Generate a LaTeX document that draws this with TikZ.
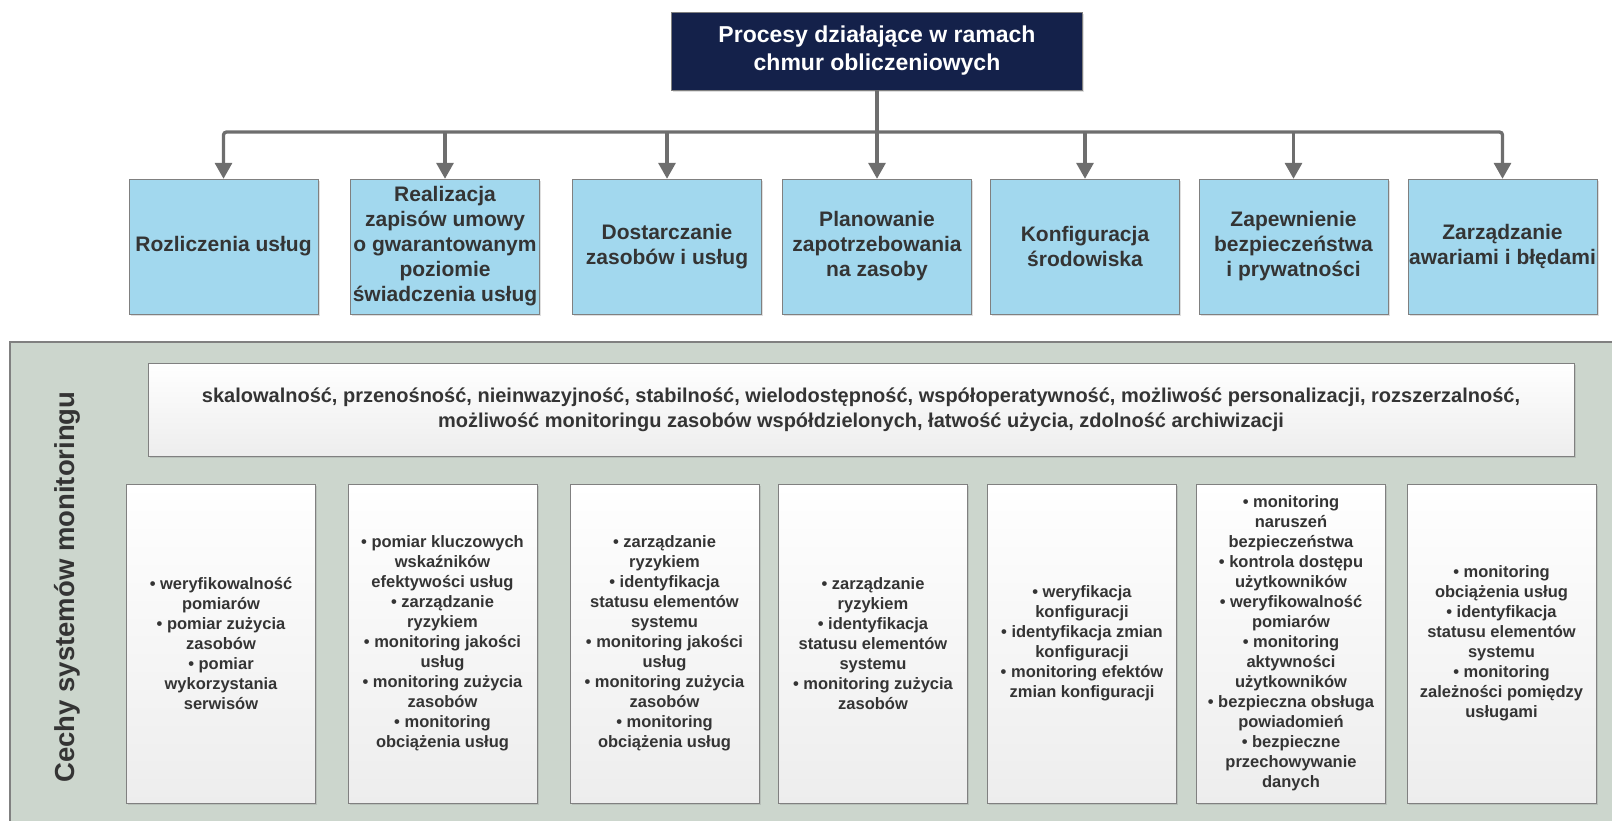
\documentclass[tikz,border=0pt]{standalone}
\usepackage{fontspec}
\setmainfont{Liberation Sans}
\usetikzlibrary{arrows.meta,shadows}

\definecolor{granat}{RGB}{20,33,74}
\definecolor{niebieski}{RGB}{162,216,238}
\definecolor{tlo}{RGB}{204,214,205}
\definecolor{linia}{RGB}{110,110,110}
\definecolor{ramka}{RGB}{128,128,128}
\definecolor{tekst}{RGB}{52,52,52}

\begin{document}
\begin{tikzpicture}[x=1pt, y=-1pt,
    cien/.style={drop shadow={shadow xshift=1.5pt, shadow yshift=-1.5pt, opacity=0.25}},
    proces/.style={draw=ramka, fill=niebieski, cien, minimum width=189pt, minimum height=135pt,
      inner sep=0pt, align=center, text=tekst, font=\fontsize{21}{25}\selectfont\bfseries},
    cecha/.style={draw=ramka, top color=white, bottom color=black!7, cien, minimum width=189pt,
      minimum height=319pt, inner sep=0pt, align=center, text=tekst,
      font=\fontsize{16.5}{20}\selectfont\bfseries},
    polaczenie/.style={draw=linia, line width=3.3pt, -{Triangle[width=17pt, length=16pt]}}
  ]
  \clip (0,0) rectangle (1612,820);

  % tlo z cechami systemow monitoringu
  \draw[draw=ramka, fill=tlo, line width=1.2pt] (10,342) rectangle (1640,850);

  \node[draw=ramka, fill=granat, text=white, cien, minimum width=411pt, minimum height=78pt,
    align=center, font=\fontsize{23}{28}\selectfont\bfseries] (procesy) at (877,51)
    {Procesy działające w ramach\\chmur obliczeniowych};

  \node[proces] (rozl) at (223.5,246.5) {Rozliczenia usług};
  \node[proces] (sla) at (445,246.5) {Realizacja\\zapisów umowy\\o gwarantowanym\\poziomie\\świadczenia usług};
  \node[proces] (dostar) at (667,246.5) {Dostarczanie\\zasobów i usług};
  \node[proces] (plan) at (877,246.5) {Planowanie\\zapotrzebowania\\na zasoby};
  \node[proces] (konf) at (1085,246.5) {Konfiguracja\\środowiska};
  \node[proces] (bezp) at (1293.5,246.5) {Zapewnienie\\bezpieczeństwa\\i prywatności};
  \node[proces] (awarie) at (1502.5,246.5) {Zarządzanie\\awariami i błędami};

  \coordinate (szyna) at (877,132);
  \draw[polaczenie] (procesy) -- (plan);
  \draw[polaczenie, rounded corners=3pt] (szyna) -| (rozl.north);
  \draw[polaczenie, rounded corners=3pt] (szyna) -| (awarie.north);
  \draw[polaczenie] (sla |- szyna) -- (sla);
  \draw[polaczenie] (dostar |- szyna) -- (dostar);
  \draw[polaczenie] (konf |- szyna) -- (konf);
  \draw[polaczenie] (bezp |- szyna) -- (bezp);

  \node[rotate=90, text=tekst, font=\fontsize{27.5}{30}\selectfont\bfseries] (tytul) at (67,587)
    {Cechy systemów monitoringu};

  \node[cecha, minimum width=1426pt, minimum height=93pt, font=\fontsize{20}{25}\selectfont\bfseries]
    (wspolne) at (861,409.5)
    {skalowalność, przenośność, nieinwazyjność, stabilność, wielodostępność, współoperatywność, możliwość personalizacji, rozszerzalność,\\
     możliwość monitoringu zasobów współdzielonych, łatwość użycia, zdolność archiwizacji};

  \node[cecha] (c1) at (221,643.5) {• weryfikowalność\\pomiarów\\• pomiar zużycia\\zasobów\\• pomiar\\wykorzystania\\serwisów};
  \node[cecha] (c2) at (442.5,643.5) {• pomiar kluczowych\\wskaźników\\efektywości usług\\• zarządzanie\\ryzykiem\\• monitoring jakości\\usług\\• monitoring zużycia\\zasobów\\• monitoring\\obciążenia usług};
  \node[cecha] (c3) at (664.5,643.5) {• zarządzanie\\ryzykiem\\• identyfikacja\\statusu elementów\\systemu\\• monitoring jakości\\usług\\• monitoring zużycia\\zasobów\\• monitoring\\obciążenia usług};
  \node[cecha] (c4) at (873,643.5) {• zarządzanie\\ryzykiem\\• identyfikacja\\statusu elementów\\systemu\\• monitoring zużycia\\zasobów};
  \node[cecha] (c5) at (1082,643.5) {• weryfikacja\\konfiguracji\\• identyfikacja zmian\\konfiguracji\\• monitoring efektów\\zmian konfiguracji};
  \node[cecha] (c6) at (1291,643.5) {• monitoring\\naruszeń\\bezpieczeństwa\\• kontrola dostępu\\użytkowników\\• weryfikowalność\\pomiarów\\• monitoring\\aktywności\\użytkowników\\• bezpieczna obsługa\\powiadomień\\• bezpieczne\\przechowywanie\\danych};
  \node[cecha] (c7) at (1501.5,643.5) {• monitoring\\obciążenia usług\\• identyfikacja\\statusu elementów\\systemu\\• monitoring\\zależności pomiędzy\\usługami};
\end{tikzpicture}
\end{document}
